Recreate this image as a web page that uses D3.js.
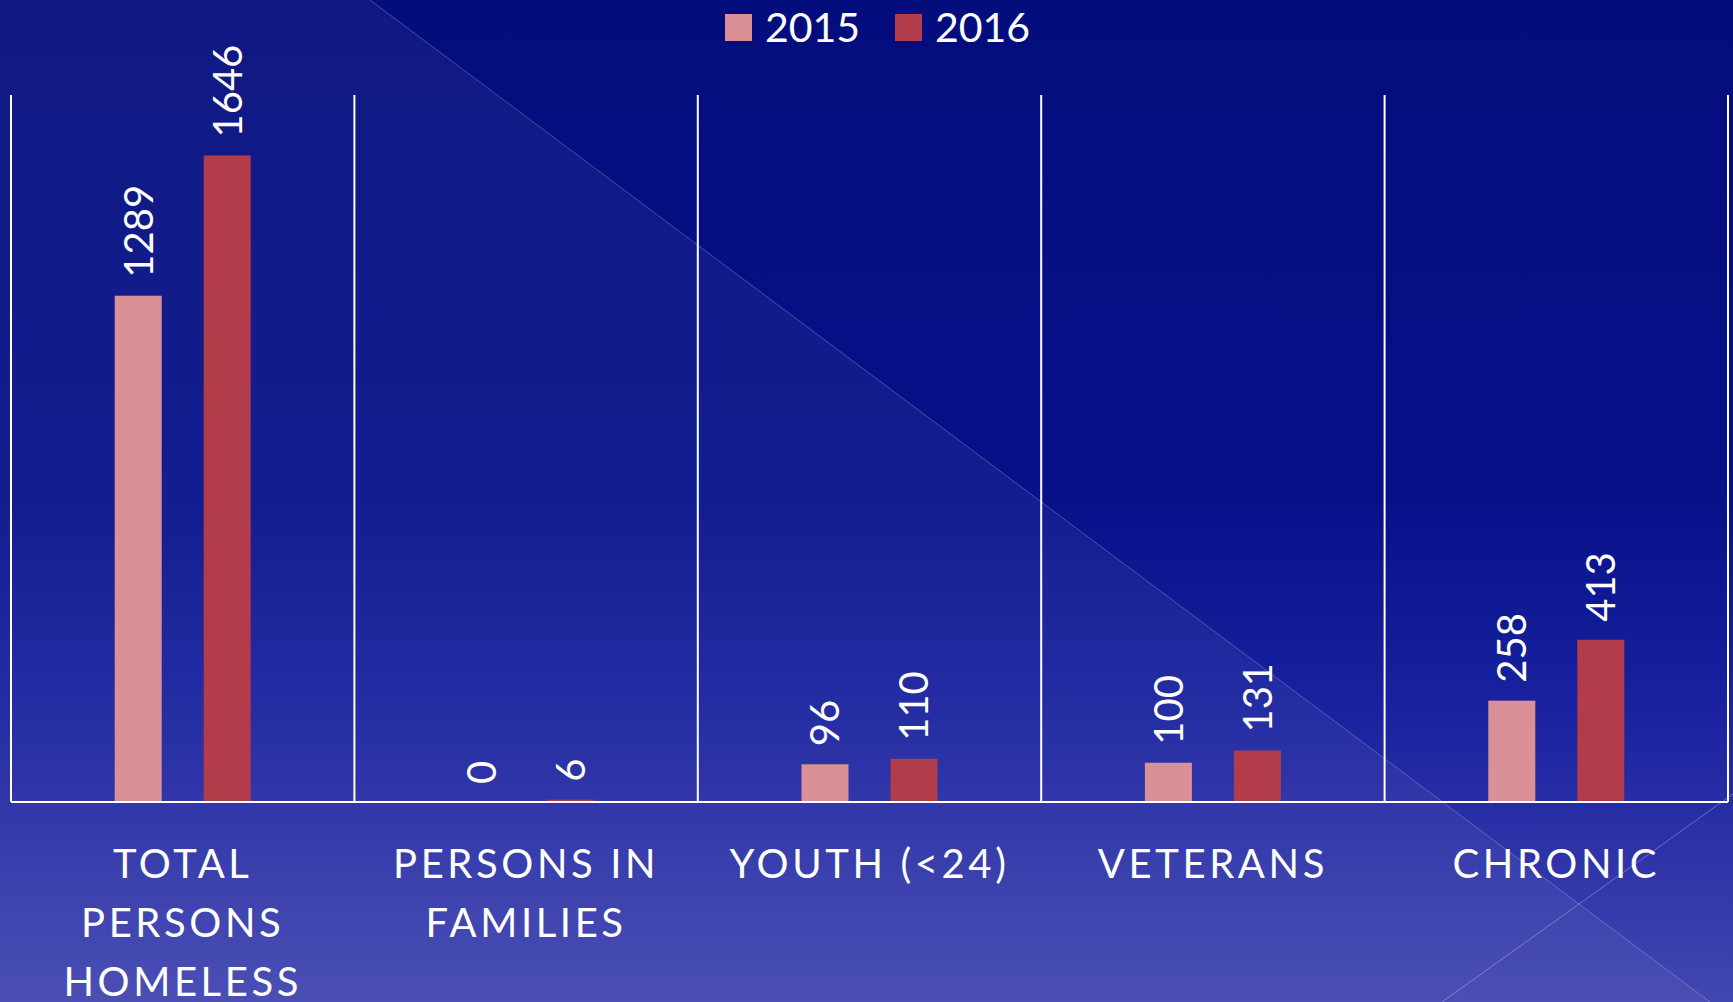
<!DOCTYPE html>
<html>
<head>
<meta charset="utf-8">
<script src="https://cdn.jsdelivr.net/npm/d3@7"></script>
<style>
  body { margin: 0; background: #050f80; }
  svg { display: block; }
  text { font-family: Lato, "Open Sans", sans-serif; fill: #fff; }
</style>
</head>
<body>
<svg id="chart"></svg>
<script>
// chart data
const categories = ["TOTAL PERSONS HOMELESS", "PERSONS IN FAMILIES", "YOUTH (<24)", "VETERANS", "CHRONIC"];
const categoryLines = [["TOTAL", "PERSONS", "HOMELESS"], ["PERSONS IN", "FAMILIES"], ["YOUTH (<24)"], ["VETERANS"], ["CHRONIC"]];
const years = ["2015", "2016"];
const values2015 = [1289, 0, 96, 100, 258];
const values2016 = [1646, 6, 110, 131, 413];
const colors = ["#d99096", "#b23c4a"];

const W = 1733, H = 1002;
const margin = { top: 95, right: 5, bottom: 200, left: 11 };

const svg = d3.select("#chart").attr("width", W).attr("height", H);

// background gradient
const defs = svg.append("defs");
const grad = defs.append("linearGradient")
  .attr("id", "bg").attr("x1", 0).attr("y1", 0).attr("x2", 0).attr("y2", 1);
grad.append("stop").attr("offset", 0).attr("stop-color", "#040d7c");
grad.append("stop").attr("offset", 0.5).attr("stop-color", "#06118a");
grad.append("stop").attr("offset", 0.72).attr("stop-color", "#1b23a0");
grad.append("stop").attr("offset", 1).attr("stop-color", "#4246b0");

svg.append("rect").attr("width", W).attr("height", H).attr("fill", "url(#bg)");

// decorative diagonal shapes of the slide theme
svg.append("path")
  .attr("d", "M0,0 L370,0 L1710,1002 L0,1002 Z")
  .attr("fill", "#ffffff").attr("fill-opacity", 0.05);
svg.append("line")
  .attr("x1", 370).attr("y1", 0).attr("x2", 1710).attr("y2", 1002)
  .attr("stroke", "#ffffff").attr("stroke-opacity", 0.25).attr("stroke-width", 1);
svg.append("line")
  .attr("x1", 1442).attr("y1", 1002).attr("x2", 1733).attr("y2", 794)
  .attr("stroke", "#ffffff").attr("stroke-opacity", 0.3).attr("stroke-width", 1);

const x = d3.scaleBand()
  .domain(categories)
  .range([margin.left, W - margin.right])
  .padding(0);

const x1 = d3.scaleBand()
  .domain(years)
  .range([0, x.bandwidth()])
  .paddingInner(0.472)
  .paddingOuter(1.165);

const y = d3.scaleLinear()
  .domain([0, 1800])
  .range([H - margin.bottom, margin.top]);

const color = d3.scaleOrdinal().domain(years).range(colors);

// vertical gridlines between categories
const bounds = categories.map(c => x(c)).concat([x.range()[1]]);
svg.append("g").selectAll("line")
  .data(bounds)
  .enter().append("line")
  .attr("x1", d => d).attr("x2", d => d)
  .attr("y1", y(1800)).attr("y2", y(0))
  .attr("stroke", "#ffffff").attr("stroke-width", 2);

// bars
const rows = categories.map((c, i) => ({ cat: c, vals: [values2015[i], values2016[i]] }));

const groups = svg.append("g").selectAll("g")
  .data(rows)
  .enter().append("g")
  .attr("transform", d => "translate(" + x(d.cat) + ",0)");

groups.selectAll("rect")
  .data(d => d.vals.map((v, j) => ({ year: years[j], value: v })))
  .enter().append("rect")
  .attr("x", d => x1(d.year))
  .attr("y", d => y(d.value))
  .attr("width", x1.bandwidth())
  .attr("height", d => y(0) - y(d.value))
  .attr("fill", d => color(d.year));

// value labels, rotated
groups.selectAll("text")
  .data(d => d.vals.map((v, j) => ({ year: years[j], value: v })))
  .enter().append("text")
  .attr("transform", d => "translate(" + (x1(d.year) + x1.bandwidth() / 2) + "," + (y(d.value) - 18) + ") rotate(-90)")
  .attr("dy", "0.36em")
  .style("font-size", "40px")
  .style("text-anchor", "start")
  .text(d => d.value);

// x axis
const xAxis = svg.append("g")
  .attr("transform", "translate(0," + y(0) + ")")
  .call(d3.axisBottom(x).tickSize(0).tickPadding(0).tickFormat(""));
xAxis.select(".domain").attr("stroke", "#ffffff").attr("stroke-width", 2)
  .attr("d", "M" + x.range()[0] + ",0H" + x.range()[1]);

xAxis.selectAll(".tick text")
  .each(function(d, i) {
    const t = d3.select(this);
    t.attr("fill", "#ffffff").attr("y", 0).attr("dy", null)
      .style("font-size", "40px")
      .style("letter-spacing", "3.6px")
      .style("font-family", "Lato, sans-serif");
    categoryLines[i].forEach((line, k) => {
      t.append("tspan")
        .attr("x", 0)
        .attr("y", 76 + k * 59)
        .text(line);
    });
  });

// legend
const legend = svg.append("g");
const legendX = [725, 895];
years.forEach((yr, i) => {
  legend.append("rect")
    .attr("x", legendX[i]).attr("y", 14)
    .attr("width", 27).attr("height", 27)
    .attr("fill", colors[i]);
  legend.append("text")
    .attr("x", legendX[i] + 40).attr("y", 42)
    .style("font-size", "41px")
    .text(yr);
});
</script>
</body>
</html>
